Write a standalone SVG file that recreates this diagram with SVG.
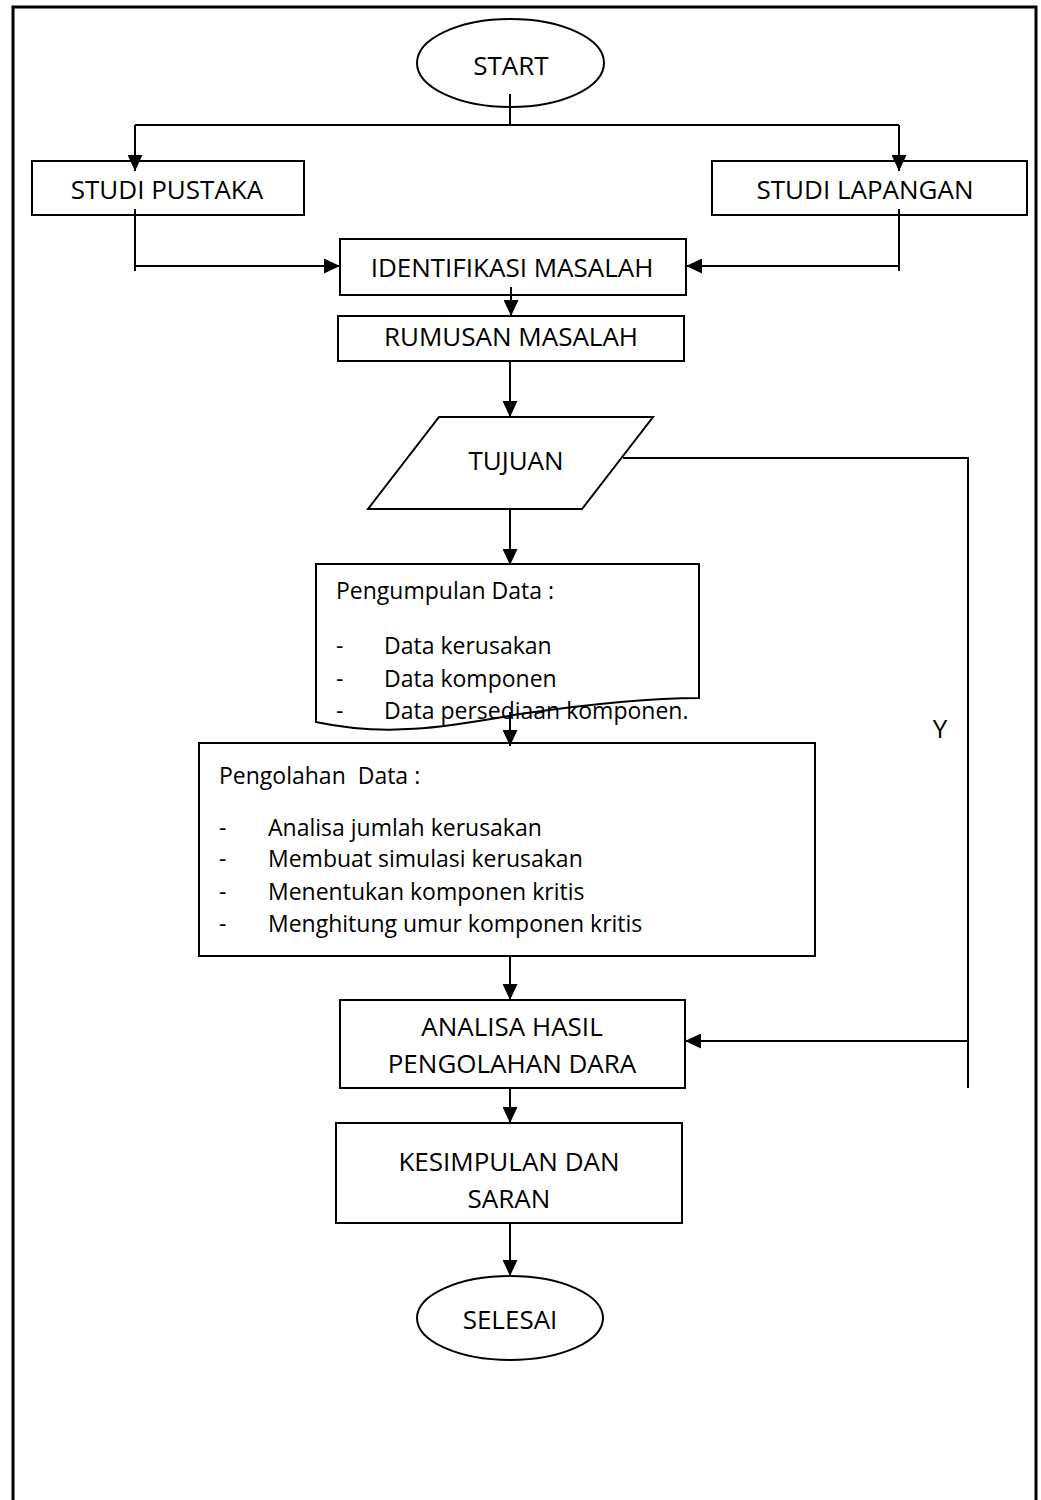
<svg xmlns="http://www.w3.org/2000/svg" width="1041" height="1500" viewBox="0 0 1041 1500">
<style>
.s{fill:#fff;stroke:#000;stroke-width:2}
.c{fill:none;stroke:#000;stroke-width:2}
text{font-family:"Open Sans","Liberation Sans",sans-serif;font-size:23px;fill:#000}
.m{text-anchor:middle;font-size:26px}
</style>
<defs>
<marker id="a" markerUnits="userSpaceOnUse" markerWidth="16" markerHeight="15" refX="16" refY="7.5" orient="auto">
<path d="M0,0 L16,7.5 L0,15 Z" fill="#000"/>
</marker>
</defs>
<rect x="13" y="7" width="1023" height="1500" fill="#fff" stroke="#000" stroke-width="3"/>
<g id="start">
<ellipse class="s" cx="510.5" cy="63" rx="93.5" ry="44"/>
<text x="511" y="75" class="m">START</text>
</g>
<g id="studi-pustaka">
<rect class="s" x="32" y="161" width="272" height="54"/>
<text x="167" y="199" class="m">STUDI PUSTAKA</text>
</g>
<g id="studi-lapangan">
<rect class="s" x="712" y="161" width="315" height="54"/>
<text x="865" y="199" class="m">STUDI LAPANGAN</text>
</g>
<g id="identifikasi">
<rect class="s" x="340" y="239" width="346" height="56"/>
<text x="512" y="277" class="m">IDENTIFIKASI MASALAH</text>
</g>
<g id="rumusan">
<rect class="s" x="338" y="316" width="346" height="45"/>
<text x="511" y="346" class="m">RUMUSAN MASALAH</text>
</g>
<g id="tujuan">
<polygon class="s" points="439,417 653,417 582,509 368,509"/>
<text x="516" y="470" class="m">TUJUAN</text>
</g>
<g id="pengumpulan">
<path class="s" d="M316,564 H699 V698 C655,698 590,704 520,714 C450,726 390,738 316,722 Z" fill="none"/>
<text x="336" y="599">Pengumpulan Data :</text>
<text x="336" y="654">-</text><text x="384" y="654">Data kerusakan</text>
<text x="336" y="687">-</text><text x="384" y="687">Data komponen</text>
<text x="336" y="719">-</text><text x="384" y="719">Data persediaan komponen.</text>
</g>
<g id="pengolahan">
<rect class="s" x="199" y="743" width="616" height="213"/>
<text x="219" y="784" xml:space="preserve">Pengolahan  Data :</text>
<text x="219" y="836">-</text><text x="268" y="836">Analisa jumlah kerusakan</text>
<text x="219" y="867">-</text><text x="268" y="867">Membuat simulasi kerusakan</text>
<text x="219" y="900">-</text><text x="268" y="900">Menentukan komponen kritis</text>
<text x="219" y="932">-</text><text x="268" y="932">Menghitung umur komponen kritis</text>
</g>
<g id="analisa">
<rect class="s" x="340" y="1000" width="345" height="88"/>
<text x="512" y="1036" class="m">ANALISA HASIL</text>
<text x="512" y="1073" class="m">PENGOLAHAN DARA</text>
</g>
<g id="kesimpulan">
<rect class="s" x="336" y="1123" width="346" height="100"/>
<text x="509" y="1171" class="m">KESIMPULAN DAN</text>
<text x="509" y="1208" class="m">SARAN</text>
</g>
<g id="selesai">
<ellipse class="s" cx="510" cy="1318" rx="93" ry="42"/>
<text x="510" y="1329" class="m">SELESAI</text>
</g>
<g id="connectors">
<path class="c" d="M510,94 V125 M135,125 H899"/>
<path class="c" d="M135,125 V171" marker-end="url(#a)"/>
<path class="c" d="M899,125 V171" marker-end="url(#a)"/>
<path class="c" d="M135,209 V271 M899,209 V271"/>
<path class="c" d="M135,266 H340" marker-end="url(#a)"/>
<path class="c" d="M899,266 H686" marker-end="url(#a)"/>
<path class="c" d="M511,287 V316" marker-end="url(#a)"/>
<path class="c" d="M510,361 V417" marker-end="url(#a)"/>
<path class="c" d="M510,509 V565" marker-end="url(#a)"/>
<path class="c" d="M510,712 V746" marker-end="url(#a)"/>
<path class="c" d="M623,458 H968 V1088"/>
<path class="c" d="M968,1041 H685" marker-end="url(#a)"/>
<path class="c" d="M510,956 V1000" marker-end="url(#a)"/>
<path class="c" d="M510,1088 V1123" marker-end="url(#a)"/>
<path class="c" d="M510,1223 V1276" marker-end="url(#a)"/>
<text x="940" y="738" class="m">Y</text>
</g>
</svg>
